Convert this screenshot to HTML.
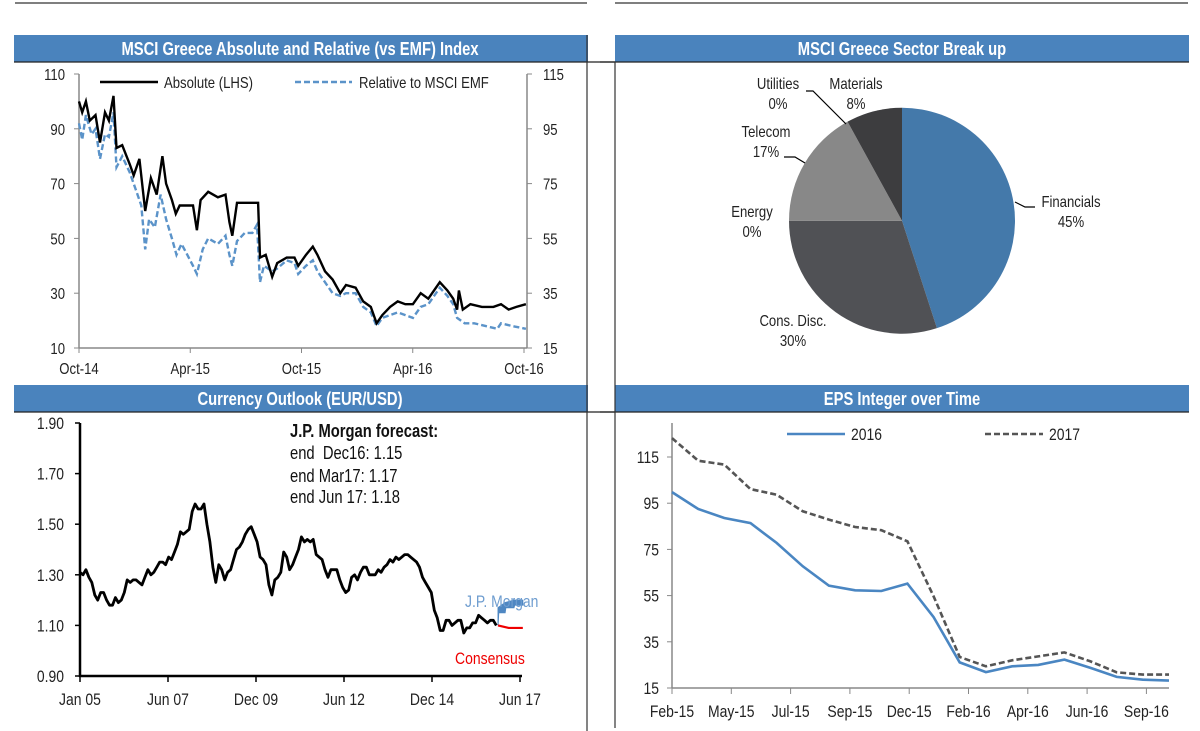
<!DOCTYPE html>
<html><head><meta charset="utf-8"><style>
html,body{margin:0;padding:0;background:#fff;}
svg{display:block;font-family:"Liberation Sans Narrow","Liberation Sans",sans-serif;}
</style></head><body>
<svg id="root" width="1200" height="731" viewBox="0 0 1200 731" xmlns="http://www.w3.org/2000/svg">
<line x1="15" y1="3" x2="587" y2="3" stroke="#555" stroke-width="1.5"/>
<line x1="615" y1="3" x2="1188" y2="3" stroke="#555" stroke-width="1.5"/>
<g>
<rect x="14" y="35" width="574" height="27" fill="#4A83BD"/>
<line x1="14" y1="62" x2="615" y2="62" stroke="#222" stroke-width="1.2"/>
<text x="300" y="55" text-anchor="middle" fill="#fff" font-weight="bold" font-size="18">MSCI Greece Absolute and Relative (vs EMF) Index</text></g>
<g>
<rect x="615" y="35" width="574" height="27" fill="#4A83BD"/>
<line x1="600" y1="62" x2="1189" y2="62" stroke="#222" stroke-width="1.2"/>
<text x="902" y="55" text-anchor="middle" fill="#fff" font-weight="bold" font-size="18">MSCI Greece Sector Break up</text></g>
<g>
<rect x="14" y="385" width="574" height="27" fill="#4A83BD"/>
<line x1="14" y1="412" x2="615" y2="412" stroke="#222" stroke-width="1.2"/>
<text x="300" y="405" text-anchor="middle" fill="#fff" font-weight="bold" font-size="18">Currency Outlook (EUR/USD)</text></g>
<g>
<rect x="615" y="385" width="574" height="27" fill="#4A83BD"/>
<line x1="600" y1="412" x2="1189" y2="412" stroke="#222" stroke-width="1.2"/>
<text x="902" y="405" text-anchor="middle" fill="#fff" font-weight="bold" font-size="18">EPS Integer over Time</text></g>
<line x1="587" y1="35" x2="587" y2="731" stroke="#333" stroke-width="1.2"/>
<line x1="615" y1="62" x2="615" y2="728" stroke="#333" stroke-width="1.2"/>
<g id="p1"></g>
<g id="p2"></g>
<g id="p3"></g>
<g id="p4"></g>
</svg>
<script>
// ---- Panel 1 data ----
const p1LeftTicks=[110,90,70,50,30,10];
const p1RightTicks=[115,95,75,55,35,15];
const p1XLabels=["Oct-14","Apr-15","Oct-15","Apr-16","Oct-16"];
const absSeries=[[0,100],[.17,96],[.37,100],[.58,93],[.89,95],[1.13,85],[1.4,96],[1.61,93],[1.86,102],[2.02,83],[2.33,84],[2.74,77],[2.95,73],[3.26,79],[3.57,60],[3.88,72],[4.19,66],[4.5,80],[4.7,70],[5.01,64],[5.22,59],[5.43,62],[5.84,62],[6.15,62],[6.36,53],[6.56,64],[6.97,67],[7.49,65],[7.9,66],[8.11,56],[8.27,51],[8.52,63],[8.94,63],[9.66,63],[9.76,43],[10.07,44],[10.42,36],[10.69,41],[11.2,43],[11.62,43],[11.82,40],[12.24,44],[12.61,47],[12.86,44],[13.27,38],[13.68,35],[14.09,30],[14.4,33],[14.92,32],[15.33,27],[15.74,25],[16.05,19],[16.36,22],[16.78,25],[17.19,27],[17.6,26],[18.01,26],[18.43,30],[18.84,28],[19.46,34],[19.87,31],[20.18,28],[20.39,24],[20.49,31],[20.7,24],[21.11,26],[21.73,25],[22.35,25],[22.76,26],[23.17,24],[23.59,25],[24.1,26]];
const relSeries=[[0,97],[.17,91],[.37,100],[.68,93],[.89,95],[1.13,84],[1.4,93],[1.61,92],[1.86,101],[2.02,81],[2.33,85],[2.74,79],[3.05,73],[3.36,67],[3.57,51],[3.78,62],[4.09,59],[4.4,71],[4.7,62],[5.01,55],[5.26,49],[5.53,53],[5.84,49],[6.15,45],[6.36,42],[6.67,51],[6.97,55],[7.49,53],[7.9,56],[8.11,49],[8.27,45],[8.52,54],[8.94,57],[9.35,57],[9.6,60],[9.76,39],[9.97,45],[10.42,43],[10.69,44],[11.2,47],[11.62,46],[11.82,42],[12.24,45],[12.61,47],[12.86,43],[13.27,39],[13.68,35],[14.09,34],[14.4,35],[14.92,35],[15.33,30],[15.74,28],[16.05,23],[16.36,26],[16.78,27],[17.19,28],[17.6,27],[18.01,26],[18.43,30],[18.84,31],[19.46,37],[19.87,34],[20.18,31],[20.39,26],[20.8,24],[21.32,24],[21.94,23],[22.56,22],[22.76,24],[23.38,23],[24.1,22]];
// ---- Panel 2 data ----
const sectorNames=["Financials","Cons. Disc.","Energy","Telecom","Utilities","Materials"];
const sectorShares=[45,30,0,17,0,8];
// ---- Panel 3 data ----
const fxTicks=[1.90,1.70,1.50,1.30,1.10,0.90];
const fxXLabels=["Jan 05","Jun 07","Dec 09","Jun 12","Dec 14","Jun 17"];
const fxMonthly=[1.31,1.30,1.32,1.29,1.27,1.22,1.20,1.23,1.23,1.20,1.18,1.18,
1.21,1.19,1.20,1.23,1.28,1.27,1.28,1.28,1.27,1.26,1.29,1.32,
1.30,1.31,1.33,1.35,1.35,1.34,1.37,1.36,1.39,1.42,1.47,1.46,
1.47,1.48,1.55,1.58,1.56,1.56,1.58,1.50,1.43,1.33,1.27,1.34,
1.32,1.28,1.31,1.32,1.36,1.40,1.41,1.43,1.46,1.48,1.49,1.46,
1.43,1.37,1.36,1.34,1.26,1.22,1.28,1.29,1.31,1.39,1.37,1.32,
1.34,1.37,1.40,1.45,1.43,1.44,1.43,1.44,1.38,1.37,1.36,1.32,
1.29,1.32,1.32,1.32,1.28,1.25,1.23,1.24,1.29,1.30,1.28,1.31,
1.33,1.33,1.30,1.30,1.30,1.32,1.31,1.33,1.34,1.36,1.35,1.37,
1.36,1.37,1.38,1.38,1.37,1.36,1.35,1.33,1.29,1.27,1.25,1.23,
1.16,1.13,1.08,1.08,1.12,1.12,1.10,1.11,1.12,1.12,1.07,1.09,
1.09,1.11,1.11,1.14,1.13,1.12,1.11,1.12,1.12,1.10];
const jpmDates=[2016.8,2017.0,2017.25,2017.5];
const jpmValues=[1.10,1.15,1.17,1.18];
const consDates=[2016.8,2016.95,2017.1,2017.5];
const consValues=[1.10,1.095,1.09,1.09];
// ---- Panel 4 data ----
const epsTicks=[115,95,75,55,35,15];
const epsXLabels=["Feb-15","May-15","Jul-15","Sep-15","Dec-15","Feb-16","Apr-16","Jun-16","Sep-16"];
const eps2016=[99.8,92.5,88.6,86.4,77.8,67.7,59.3,57.3,57.0,60.2,45.7,26.1,21.9,24.4,25.0,27.3,23.7,19.8,18.6,18.2];
const eps2017=[123.2,113.4,111.7,101.1,98.7,91.5,87.9,84.7,83.3,78.5,54.7,28.4,24.4,27.0,28.7,30.4,26.5,21.8,20.8,20.8];

const NS="http://www.w3.org/2000/svg";
function mk(parent,tag,attrs,text){const e=document.createElementNS(NS,tag);for(const k in attrs)e.setAttribute(k,attrs[k]);if(text!==undefined)e.textContent=text;parent.appendChild(e);return e;}

// ---------- Panel 1 ----------
(function(){
const g=document.getElementById('p1');
const x1=m=>79+m*(445/24);
const yL=v=>74+(110-v)*2.74;
const yR=v=>74+(115-v)*2.74;
let e;
e=mk(g,'line',{x1:79,y1:74,x2:79,y2:348,stroke:'#888','stroke-width':1.5});

e=mk(g,'line',{x1:527,y1:74,x2:527,y2:348,stroke:'#888','stroke-width':1.5});

e=mk(g,'line',{x1:79,y1:348,x2:527,y2:348,stroke:'#888','stroke-width':1.5});

p1LeftTicks.forEach(v=>{mk(g,'line',{x1:74,x2:79,y1:yL(v),y2:yL(v),stroke:'#888'});
 e=mk(g,'text',{x:65,y:yL(v)+6,'text-anchor':'end','font-size':16,fill:'#222'},v);
 });
p1RightTicks.forEach(v=>{mk(g,'line',{x1:527,x2:532,y1:yR(v),y2:yR(v),stroke:'#888'});
 e=mk(g,'text',{x:543,y:yR(v)+6,'font-size':16,fill:'#222'},v);
 });
p1XLabels.forEach((l,i)=>{const x=x1(i*6);mk(g,'line',{x1:x,x2:x,y1:348,y2:353,stroke:'#888'});
 e=mk(g,'text',{x:x,y:374,'text-anchor':'middle','font-size':16,fill:'#222'},l);
 });
e=mk(g,'path',{d:relSeries.map((p,i)=>(i?'L':'M')+x1(p[0]).toFixed(1)+','+yR(p[1]).toFixed(1)).join(''),fill:'none',stroke:'#5B93C9','stroke-width':2.4,'stroke-dasharray':'6,3'});

e=mk(g,'path',{d:absSeries.map((p,i)=>(i?'L':'M')+x1(p[0]).toFixed(1)+','+yL(p[1]).toFixed(1)).join(''),fill:'none',stroke:'#000','stroke-width':2.4});

const lg=mk(g,'g',{});
mk(lg,'line',{x1:100,x2:158,y1:82,y2:82,stroke:'#000','stroke-width':2.5});
mk(lg,'text',{x:164,y:88,'font-size':16,fill:'#222'},'Absolute (LHS)');
mk(lg,'line',{x1:295,x2:352,y1:82,y2:82,stroke:'#5B93C9','stroke-width':2.5,'stroke-dasharray':'6,3'});
mk(lg,'text',{x:359,y:88,'font-size':16,fill:'#222'},'Relative to MSCI EMF');
})();

// ---------- Panel 2 ----------
(function(){
const g=document.getElementById('p2');
const cx=902,cy=220.7,r=113;
const cols=['#4479AA','#505155','#666','#888888','#555','#3D3D3F'];
const total=sectorShares.reduce((a,b)=>a+b,0);
let a0=-Math.PI/2;
sectorShares.forEach((s,i)=>{
 const a1=a0+s/total*2*Math.PI;
 if(s>0){const large=(a1-a0)>Math.PI?1:0;
 const e=mk(g,'path',{d:`M${cx},${cy}L${cx+r*Math.cos(a0)},${cy+r*Math.sin(a0)}A${r},${r} 0 ${large} 1 ${cx+r*Math.cos(a1)},${cy+r*Math.sin(a1)}Z`,fill:cols[i]});
 
 }
 a0=a1;});
const labels=[[1071,207],[793,326],[752,217],[766,137],[778,89],[856,89]];
labels.forEach((p,i)=>{const t=mk(g,'text',{x:p[0],y:p[1],'text-anchor':'middle','font-size':16,fill:'#222'});
 
 mk(t,'tspan',{x:p[0],dy:0},sectorNames[i]);mk(t,'tspan',{x:p[0],dy:20},sectorShares[i]+'%');});
mk(g,'path',{d:'M1015,202 L1025,207 L1035,207',fill:'none',stroke:'#000','stroke-width':1.2});
mk(g,'path',{d:'M784,157 L795,157 L805,163',fill:'none',stroke:'#000','stroke-width':1.2});
mk(g,'path',{d:'M806,91 L813,91 L846,124',fill:'none',stroke:'#000','stroke-width':1.2});
})();

// ---------- Panel 3 ----------
(function(){
const g=document.getElementById('p3');
const xC=t=>80+(t-2005)*440/12.42;
const yC=v=>676-(v-0.9)*253;
let e;
e=mk(g,'line',{x1:80,y1:423,x2:80,y2:677,stroke:'#000','stroke-width':2.5});

e=mk(g,'line',{x1:79,y1:676,x2:522,y2:676,stroke:'#000','stroke-width':2.5});

fxTicks.forEach(v=>{mk(g,'line',{x1:75,x2:80,y1:yC(v),y2:yC(v),stroke:'#000','stroke-width':1.5});
 e=mk(g,'text',{x:64,y:yC(v)+6,'text-anchor':'end','font-size':17,fill:'#222'},v.toFixed(2));
 });
fxXLabels.forEach((l,i)=>{const x=xC(2005+i*2.484);mk(g,'line',{x1:x,x2:x,y1:676,y2:682,stroke:'#000','stroke-width':1.5});
 e=mk(g,'text',{x:x,y:705,'text-anchor':'middle','font-size':17,fill:'#222'},l);
 });
e=mk(g,'path',{d:fxMonthly.map((v,i)=>(i?'L':'M')+xC(2005+i/12).toFixed(1)+','+yC(v).toFixed(1)).join(''),fill:'none',stroke:'#000','stroke-width':2.8,'stroke-linejoin':'round'});

let d='M'+xC(jpmDates[0])+','+yC(jpmValues[0]);
for(let i=1;i<jpmDates.length;i++){d+='L'+xC(jpmDates[i-1]+0.02)+','+yC(jpmValues[i])+'L'+xC(jpmDates[i])+','+yC(jpmValues[i]);}
d+='L'+xC(jpmDates[jpmDates.length-1])+','+yC(jpmValues[jpmValues.length-1]+0.02);
for(let i=jpmDates.length-1;i>=1;i--){d+='L'+xC(jpmDates[i-1])+','+yC(jpmValues[i]+0.02);}
d+='Z';
e=mk(g,'path',{d:d,fill:'#4F87C2',stroke:'#4F87C2','stroke-width':1});

e=mk(g,'path',{d:consDates.map((t,i)=>(i?'L':'M')+xC(t)+','+yC(consValues[i])).join(''),fill:'none',stroke:'#E00','stroke-width':2.2});

e=mk(g,'text',{x:465,y:607,'font-size':17,fill:'#6D9CCF'},'J.P. Morgan');

e=mk(g,'text',{x:455,y:664,'font-size':17,fill:'#E00'},'Consensus');

const ft=mk(g,'g',{'font-size':18,fill:'#111'});
mk(ft,'text',{x:290,y:437,'font-weight':'bold'},'J.P. Morgan forecast:');
mk(ft,'text',{x:290,y:459,'xml:space':'preserve'},'end\u00a0\u00a0Dec16: 1.15');
mk(ft,'text',{x:290,y:482},'end Mar17: 1.17');
mk(ft,'text',{x:290,y:503},'end Jun 17: 1.18');
})();

// ---------- Panel 4 ----------
(function(){
const g=document.getElementById('p4');
const xE=i=>672+i*(497/(eps2016.length-1));
const yE=v=>688-(v-15)*2.31;
let e;
e=mk(g,'line',{x1:672,y1:423,x2:672,y2:688,stroke:'#888','stroke-width':1.5});

e=mk(g,'line',{x1:672,y1:688,x2:1169,y2:688,stroke:'#888','stroke-width':1.5});

epsTicks.forEach(v=>{mk(g,'line',{x1:667,x2:672,y1:yE(v),y2:yE(v),stroke:'#888'});
 e=mk(g,'text',{x:659,y:yE(v)+6,'text-anchor':'end','font-size':17,fill:'#222'},v);
 });
epsXLabels.forEach((l,i)=>{const x=672+i*59.3;mk(g,'line',{x1:x,x2:x,y1:688,y2:694,stroke:'#888'});
 e=mk(g,'text',{x:x,y:717,'text-anchor':'middle','font-size':17,fill:'#222'},l);
 });
e=mk(g,'path',{d:eps2017.map((v,i)=>(i?'L':'M')+xE(i).toFixed(1)+','+yE(v).toFixed(1)).join(''),fill:'none',stroke:'#555','stroke-width':2.6,'stroke-dasharray':'6,3'});

e=mk(g,'path',{d:eps2016.map((v,i)=>(i?'L':'M')+xE(i).toFixed(1)+','+yE(v).toFixed(1)).join(''),fill:'none',stroke:'#4A86C2','stroke-width':2.6});

const lg=mk(g,'g',{});
mk(lg,'line',{x1:787,x2:845,y1:434,y2:434,stroke:'#4A86C2','stroke-width':2.6});
mk(lg,'text',{x:851,y:440,'font-size':17,fill:'#222'},'2016');
mk(lg,'line',{x1:985,x2:1043,y1:434,y2:434,stroke:'#555','stroke-width':2.6,'stroke-dasharray':'6,3'});
mk(lg,'text',{x:1049,y:440,'font-size':17,fill:'#222'},'2017');
})();

// Condense text horizontally to mimic a narrow font
document.querySelectorAll('#root text, #root tspan').forEach(t=>{
 if(t.tagName==='text' && t.querySelector('tspan')) return;
 try{const L=t.getComputedTextLength();if(L>0){t.setAttribute('textLength',(L*0.82).toFixed(1));t.setAttribute('lengthAdjust','spacingAndGlyphs');}}catch(err){}
});
</script>
</body></html>
